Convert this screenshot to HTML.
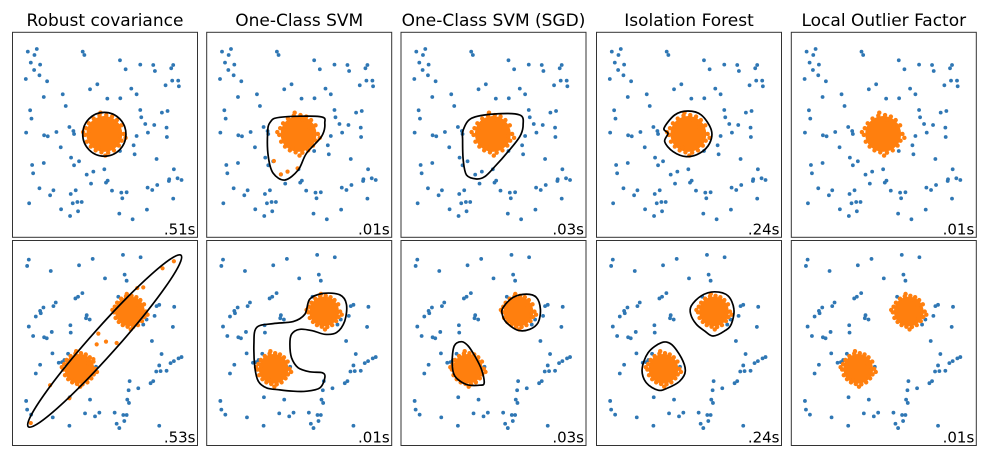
<!DOCTYPE html>
<html><head><meta charset="utf-8"><style>
html,body{margin:0;padding:0;background:#fff;}
svg{display:block;font-family:"DejaVu Sans","Liberation Sans",sans-serif;}
</style></head><body>
<svg id="chart" width="988" height="457" viewBox="0 0 988 457"></svg>
<script>
const methods = ["Robust covariance","One-Class SVM","One-Class SVM (SGD)","Isolation Forest","Local Outlier Factor"];
const timesRow1 = [".51s",".01s",".03s",".24s",".01s"];
const timesRow2 = [".53s",".01s",".03s",".24s",".01s"];
const outliersRow1 = [[83,155],[110,147],[103,165],[92,188],[120,194],[102,210],[118,226],[77,237],[141,244],[248,155],[253,165],[360,181],[377,208],[421,194],[460,195],[465,213],[520,195],[514,205],[517,242],[535,242],[537,259],[497,256],[292,253],[270,268],[394,266],[410,283],[188,283],[131,291],[322,296],[361,295],[197,318],[90,331],[94,356],[421,330],[424,352],[486,338],[503,333],[436,372],[463,375],[500,383],[78,398],[132,406],[143,409],[169,396],[208,381],[220,393],[222,402],[182,442],[410,408],[444,398],[501,411],[401,436],[404,463],[360,453],[96,495],[99,520],[131,489],[213,473],[222,496],[237,484],[260,524],[280,515],[313,508],[323,542],[318,548],[273,551],[118,565],[160,571],[150,586],[212,582],[227,571],[218,610],[232,606],[245,606],[234,634],[210,648],[183,628],[87,610],[336,572],[364,578],[380,577],[367,595],[443,563],[457,570],[472,555],[470,477],[508,538],[507,543],[533,535],[545,540],[522,508],[520,596],[441,629],[358,641],[398,658]];
const outliersRow2 = [[86,77],[81,96],[152,111],[237,94],[278,75],[369,63],[422,70],[315,133],[374,122],[380,140],[355,188],[247,177],[234,188],[226,193],[167,205],[160,216],[130,220],[120,230],[122,237],[107,247],[86,277],[99,305],[132,309],[140,312],[155,293],[211,273],[260,243],[258,252],[269,256],[212,295],[157,357],[176,385],[186,383],[193,377],[120,391],[107,417],[204,358],[275,400],[288,397],[430,271],[440,256],[464,245],[470,216],[478,212],[523,218],[519,278],[456,320],[485,359],[478,393],[482,410],[500,409],[512,386],[522,380],[536,372],[545,368],[469,411],[460,440],[452,446],[389,440],[415,461],[386,467],[382,495],[387,505],[270,495],[209,488],[158,548],[78,499],[81,525],[93,540],[255,536],[285,545],[298,534],[344,534],[370,541],[380,541],[373,559],[350,567],[358,580],[208,573],[478,573]];
const blobsRow1 = [[313,402,58]];
const blobsRow2 = [[390,232,48],[238,403,48]];
const blobSpread = [[1,0],[.9,.35],[.75,.6],[.5,.85],[.2,.97],[-.15,.95],[-.45,.85],[-.7,.65],[-.9,.4],[-1,.05],[-.95,-.3],[-.8,-.55],[-.55,-.8],[-.25,-.95],[.1,-.98],[.4,-.9],[.65,-.72],[.88,-.45],[.8,.1],[.6,.45],[-.3,.7],[-.75,-.2],[.2,-.75],[.55,-.35],[1.1,.2],[-1.1,-.1],[.05,1.12],[-.2,-1.1]];
const strayRow2Col1 = [[488,103],[522,82],[430,160],[412,162],[295,298],[318,322],[350,326],[290,330],[280,374],[150,452],[208,491],[92,565]];
const strayRow1Col2 = [[239,483],[260,523],[280,515],[310,505]];
const contoursRow1 = [
  null,
  [[[227,368],[257,352],[377,350],[392,370],[382,410],[337,460],[312,510],[272,540],[237,520],[222,470],[220,400]]],
  [[[224,390],[249,355],[319,342],[394,345],[404,375],[394,410],[359,455],[319,500],[289,530],[264,537],[234,525],[224,480],[222,420]]],
  [[[240,385],[272,345],[312,333],[352,345],[382,390],[377,430],[347,460],[307,470],[267,455],[242,425],[252,400]]],
  []
];
const contoursRow2 = [
  null,
  [[[187,280],[237,268],[297,262],[332,240],[347,195],[387,178],[437,182],[457,210],[452,260],[427,295],[392,300],[357,290],[317,285],[292,300],[287,330],[292,370],[312,400],[347,412],[385,415],[392,430],[377,460],[337,470],[297,470],[257,466],[217,460],[192,440],[182,400],[179,330]]],
  [[[344,220],[374,190],[414,180],[444,190],[456,225],[449,265],[424,285],[389,288],[354,265],[341,240]],[[197,335],[219,322],[239,335],[259,365],[279,405],[287,445],[274,452],[234,450],[199,425],[191,385]]],
  [[[322,215],[352,185],[392,173],[432,185],[450,225],[442,270],[422,290],[387,305],[362,290],[337,270],[320,240]],[[192,355],[232,325],[262,330],[292,370],[304,410],[287,440],[252,460],[222,467],[187,445],[174,405]]],
  []
];
const robustRow1 = [313,403,65,66,0];
const robustRow2 = [314,320,345,40,-48.3];

const NS="http://www.w3.org/2000/svg";
const svg=document.getElementById('chart');
const panelLefts=[12.5,206.7,401,596.5,791.3];
const panelW=185, panelH=205;
const rowTops=[32.3,240.5];
const xDomain=[37,593];
const yDomains=[[97,712],[20,632]];
function mk(tag,attrs,parent){const e=document.createElementNS(NS,tag);for(const k in attrs)e.setAttribute(k,attrs[k]);(parent||svg).appendChild(e);return e;}
function xs(c){return v=>panelLefts[c]+(v-xDomain[0])/(xDomain[1]-xDomain[0])*panelW;}
function ys(r){const d=yDomains[r];return v=>rowTops[r]+(v-d[0])/(d[1]-d[0])*panelH;}
const kx=panelW/(xDomain[1]-xDomain[0]);
function smoothClosed(P){
  const n=P.length;let d=`M${P[0][0].toFixed(1)},${P[0][1].toFixed(1)}`;
  for(let i=0;i<n;i++){
    const p0=P[(i-1+n)%n],p1=P[i],p2=P[(i+1)%n],p3=P[(i+2)%n];
    const c1=[p1[0]+(p2[0]-p0[0])/6,p1[1]+(p2[1]-p0[1])/6];
    const c2=[p2[0]-(p3[0]-p1[0])/6,p2[1]-(p3[1]-p1[1])/6];
    d+=` C${c1[0].toFixed(1)},${c1[1].toFixed(1)} ${c2[0].toFixed(1)},${c2[1].toFixed(1)} ${p2[0].toFixed(1)},${p2[1].toFixed(1)}`;
  }
  return d+'Z';
}

methods.forEach((m,c)=>{
  const t=mk('text',{x:panelLefts[c]+panelW/2,y:26,'text-anchor':'middle','font-size':'17',fill:'#000'});
  t.textContent=m;
  
  
});

for(let r=0;r<2;r++){
  for(let c=0;c<5;c++){
    const X=xs(c),Y=ys(r);
    const g=mk('g',{});
    
    
    mk('rect',{x:panelLefts[c],y:rowTops[r],width:panelW,height:panelH,fill:'#fff',stroke:'#333','stroke-width':1},g);
    const outs=r===0?outliersRow1:outliersRow2;
    outs.forEach(p=>{
      const e=mk('circle',{cx:X(p[0]),cy:Y(p[1]),r:1.9,fill:'#2f77b4'},g);
      
      
    });
    const blobs=r===0?blobsRow1:blobsRow2;
    blobs.forEach(b=>{
      const rad=b[2]*kx;
      const core=mk('circle',{cx:X(b[0]),cy:Y(b[1]),r:rad*0.93,fill:'#ff7f0e'},g);
      
      
      blobSpread.forEach(o=>{
        const e=mk('circle',{cx:X(b[0])+o[0]*rad,cy:Y(b[1])+o[1]*rad,r:2.2,fill:'#ff7f0e'},g);
        
        
      });
    });
    const strays = (r===1&&c===0)?strayRow2Col1:((r===0&&c===1)?strayRow1Col2:[]);
    strays.forEach(p=>{
      const e=mk('circle',{cx:X(p[0]),cy:Y(p[1]),r:2.1,fill:'#ff7f0e'},g);
      
      
    });
    if(c===0){
      const e0=r===0?robustRow1:robustRow2;
      const el=mk('ellipse',{cx:X(e0[0]),cy:Y(e0[1]),rx:e0[2]*kx,ry:e0[3]*kx,fill:'none',stroke:'#000','stroke-width':1.7,transform:`rotate(${e0[4]} ${X(e0[0])} ${Y(e0[1])})`},g);
      
      
    } else {
      const cs=(r===0?contoursRow1:contoursRow2)[c];
      cs.forEach(poly=>{
        const P=poly.map(p=>[X(p[0]),Y(p[1])]);
        const el=mk('path',{d:smoothClosed(P),fill:'none',stroke:'#000','stroke-width':1.7,'stroke-linejoin':'round'},g);
        
        
      });
    }
    const tl=mk('text',{x:panelLefts[c]+panelW-2,y:rowTops[r]+panelH-3,'text-anchor':'end','font-size':'15',fill:'#000'},g);
    tl.textContent=(r===0?timesRow1:timesRow2)[c];
    
    
  }
}
</script>
</body></html>
